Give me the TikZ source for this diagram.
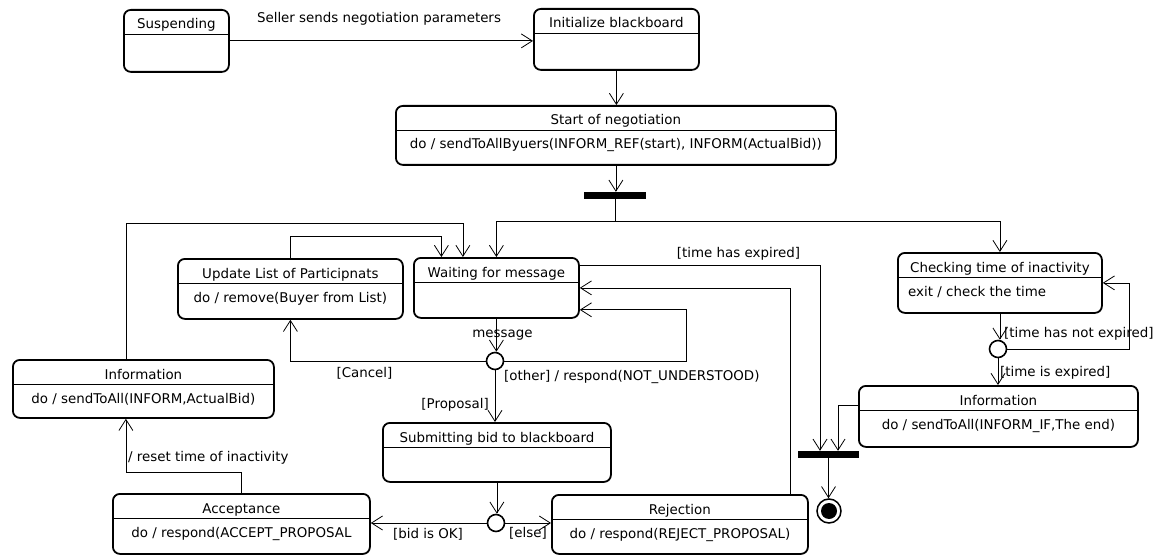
\documentclass[tikz,border=0pt]{standalone}
\usepackage{fontspec}
\setmainfont{DejaVu Sans}
\usetikzlibrary{arrows.meta,positioning,calc}

\begin{document}
\begin{tikzpicture}[x=1pt,y=-1pt,>={Straight Barb[length=11pt,width=14pt]},font=\fontsize{13.4}{16}\selectfont]
\tikzstyle{S}=[draw,line width=1.8pt,rounded corners=7pt,inner sep=0pt,anchor=north west]
\tikzstyle{T}=[anchor=base,inner sep=0pt]
\tikzstyle{L}=[inner sep=0pt]
\tikzstyle{D}=[circle,draw,line width=1.6pt,fill=white,minimum size=17pt,inner sep=0pt]
\tikzstyle{B}=[fill=black,minimum width=62pt,minimum height=7pt,inner sep=0pt]
\tikzstyle{E}=[line width=0.8pt]
\useasboundingbox (0,0) rectangle (1175,556);

% states
\node[S,minimum width=105,minimum height=62] (susp) at (123,9) {};
\node[S,minimum width=165,minimum height=61] (init) at (533,8) {};
\node[S,minimum width=440,minimum height=59] (start) at (395,105) {};
\node[S,minimum width=165,minimum height=60] (wait) at (413,257) {};
\node[S,minimum width=225,minimum height=60] (upd) at (177,258) {};
\node[S,minimum width=261,minimum height=58] (infoL) at (12,359) {};
\node[S,minimum width=204,minimum height=60] (chk) at (897,252) {};
\node[S,minimum width=279,minimum height=61] (infoR) at (858,385) {};
\node[S,minimum width=228,minimum height=59] (sub) at (382,422) {};
\node[S,minimum width=257,minimum height=60] (acc) at (112,493) {};
\node[S,minimum width=256,minimum height=59] (rej) at (551,494) {};
\foreach \s in {susp,init,start,wait,upd,infoL,chk,infoR,sub,acc,rej}
  \draw[E] ([yshift=-25]\s.north west) -- ([yshift=-25]\s.north east);

% names and activities
\node[T] (susp-t) at ([yshift=-20]susp.north) {Suspending};
\node[T] (init-t) at ([yshift=-20]init.north) {Initialize blackboard};
\node[T] (start-t) at ([yshift=-20]start.north) {Start of negotiation};
\node[T] (start-b) at ([yshift=-44]start.north) {do / sendToAllByuers(INFORM\_REF(start), INFORM(ActualBid))};
\node[T] (wait-t) at ([yshift=-20]wait.north) {Waiting for message};
\node[T] (upd-t) at ([yshift=-20]upd.north) {Update List of Participnats};
\node[T] (upd-b) at ([yshift=-44]upd.north) {do / remove(Buyer from List)};
\node[T] (infoL-t) at ([yshift=-20]infoL.north) {Information};
\node[T] (infoL-b) at ([yshift=-44]infoL.north) {do / sendToAll(INFORM,ActualBid)};
\node[T] (chk-t) at ([yshift=-20]chk.north) {Checking time of inactivity};
\node[T,anchor=base west] (chk-b) at ([xshift=11,yshift=-44]chk.north west) {exit / check the time};
\node[T] (infoR-t) at ([yshift=-20]infoR.north) {Information};
\node[T] (infoR-b) at ([yshift=-44]infoR.north) {do / sendToAll(INFORM\_IF,The end)};
\node[T] (sub-t) at ([yshift=-20]sub.north) {Submitting bid to blackboard};
\node[T] (acc-t) at ([yshift=-20]acc.north) {Acceptance};
\node[T] (acc-b) at ([yshift=-44]acc.north) {do / respond(ACCEPT\_PROPOSAL};
\node[T] (rej-t) at ([yshift=-20]rej.north) {Rejection};
\node[T] (rej-b) at ([yshift=-44]rej.north) {do / respond(REJECT\_PROPOSAL)};

% pseudo states
\node[B] (fork) at (615,195.5) {};
\node[B,minimum width=61pt] (join) at (828.5,454.5) {};
\node[D] (d1) at (495,361) {};
\node[D] (d2) at (998,349) {};
\node[D] (d3) at (496,523) {};
\node[circle,draw,line width=1.5pt,minimum size=24pt,inner sep=0pt] (fin) at (829,511) {};
\node[circle,fill=black,minimum size=16pt,inner sep=0pt] (fin-c) at (fin) {};

% transitions
\draw[->,E] (susp.east) -- (susp.east -| init.west);
\draw[->,E] (init.south) -- (init.south |- start.north);
\draw[->,E] (start.south) -- (start.south |- fork.north);
\draw[E] (fork.south) -- ++(0,22) coordinate (fk);
\draw[->,E] (fk) -| (wait.north);
\draw[->,E] (fk) -| (chk.north);
\draw[->,E] (upd.north) -- ++(0,-22) -| ([xshift=-55]wait.north);
\draw[->,E] ([xshift=-17.5]infoL.north) -- ++(0,-136) -| ([xshift=-33.5]wait.north);
\draw[->,E] (wait.south) -- (wait.south |- d1.north);
\draw[->,E] (d1.west) -| (upd.south);
\draw[->,E] (d1.east) -- ++(182,0) |- ([yshift=9]wait.south east);
\draw[->,E] (d1.south) -- (d1.south |- sub.north);
\draw[->,E] (sub.south) -- (sub.south |- d3.north);
\draw[->,E] (d3.west) -- (d3.west -| acc.east);
\draw[->,E] (d3.east) -- (d3.east -| rej.west);
\draw[->,E] ([xshift=-18]rej.north east) |- (wait.east);
\draw[->,E] ([yshift=-8]wait.north east) -| ([xshift=-8.5]join.north);
\draw[->,E] (chk.south) -- (chk.south |- d2.north);
\draw[->,E] (d2.east) -- ++(122,0) |- (chk.east);
\draw[->,E] (d2.south) -- (d2.south |- infoR.north);
\draw[->,E] ([yshift=-20]infoR.north west) -| ([xshift=9.5]join.north);
\draw[->,E] (join.south) -- (join.south |- fin.north);
\draw[->,E] (acc.north) -- ++(0,-21) -| ([xshift=-17.5]infoL.south);

% guards and events
\node[L,anchor=base] (l1) at (379,23) {Seller sends negotiation parameters};
\node[L,anchor=base] (l2) at (738.5,257) {[time has expired]};
\node[L,anchor=base] (l3) at (502.5,337) {message};
\node[L,anchor=base] (l4) at (364.5,377) {[Cancel]};
\node[L,anchor=base west] (l5) at (504,380) {[other] / respond(NOT\_UNDERSTOOD)};
\node[L,anchor=base east] (l6) at (489,408) {[Proposal]};
\node[L,anchor=base] (l7) at (428,538) {[bid is OK]};
\node[L,anchor=base west] (l8) at (509,537) {[else]};
\node[L,anchor=base west] (l9) at (128,461) {/ reset time of inactivity};
\node[L,anchor=base west] (l10) at (1004,337) {[time has not expired]};
\node[L,anchor=base west] (l11) at (1000,376) {[time is expired]};
\end{tikzpicture}
\end{document}
